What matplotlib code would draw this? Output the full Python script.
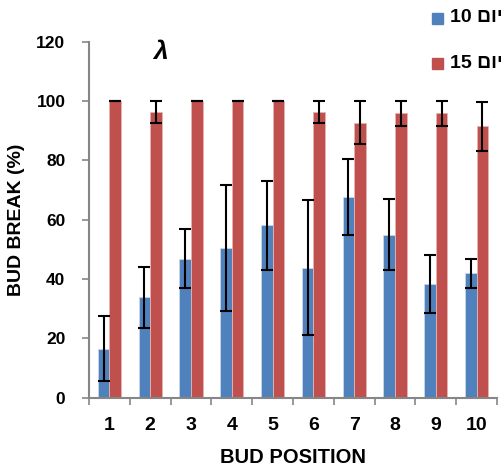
import numpy as np
import matplotlib.pyplot as plt

plt.rcParams['font.family'] = ['Liberation Sans', 'DejaVu Sans']

positions = ['1', '2', '3', '4', '5', '6', '7', '8', '9', '10']
day10 = [16.5, 33.8, 46.8, 50.4, 58.1, 43.8, 67.7, 55.0, 38.3, 41.9]
day10_err = [11.0, 10.4, 9.9, 21.2, 15.0, 22.7, 12.9, 12.1, 9.7, 4.8]
day15 = [100, 96.2, 100, 100, 100, 96.2, 92.7, 95.8, 95.8, 91.5]
day15_err = [0, 3.7, 0, 0, 0, 3.7, 7.2, 4.2, 4.2, 8.3]
yticks = [0, 20, 40, 60, 80, 100, 120]
label10 = '10 \u05dd\u05d5\u05d9'
label15 = '15 \u05dd\u05d5\u05d9'

blue = '#4F81BD'
red = '#C0504D'
grey = '#868686'

fig = plt.figure(figsize=(5.02, 4.71), dpi=100)
ax = fig.add_axes((0.1773, 0.1556, 0.8127, 0.756))

x = np.arange(len(positions))
w = 0.285
ekw = dict(ecolor='black', elinewidth=1.5, capsize=4, capthick=1.5)
ax.bar(x - w / 2, day10, w, color=blue, edgecolor='#c9d6ea', linewidth=0.6,
       yerr=day10_err, error_kw=ekw, zorder=2)
ax.bar(x + w / 2, day15, w, color=red, edgecolor='#e6b3b2', linewidth=0.6,
       yerr=day15_err, error_kw=ekw, zorder=2)

ax.set_xlim(-0.5, len(positions) - 0.5)
ax.set_ylim(0, 120)

# category boundaries carry the tick marks, centres carry the labels
ax.set_xticks(np.arange(-0.5, len(positions)), labels=[])
ax.set_xticks(x, labels=positions, minor=True)
ax.tick_params(axis='x', which='major', direction='out', length=5,
               width=1.2, color=grey)
ax.tick_params(axis='x', which='minor', length=0, pad=14, labelsize=14)
ax.set_yticks(yticks)
ax.tick_params(axis='y', direction='out', length=5, width=1.2, color=grey,
               labelsize=12.5, pad=12)
for lbl in ax.get_xticklabels(minor=True) + ax.get_yticklabels():
    lbl.set_fontweight('bold')

for side in ['top', 'right']:
    ax.spines[side].set_visible(False)
for side in ['left', 'bottom']:
    ax.spines[side].set_color(grey)
    ax.spines[side].set_linewidth(1.5)

ax.set_xlabel('BUD POSITION', fontsize=14.5, fontweight='bold', labelpad=10)
ax.set_ylabel('BUD BREAK (%)', fontsize=14, fontweight='bold', labelpad=8)

ax.text(1.25, 116.5, '\u03bb', fontsize=19, fontweight='bold', style='italic',
        ha='center', va='center')

# legend drawn by hand at the top right
for yy, col, txt in [(0.9618, blue, label10), (0.8662, red, label15)]:
    fig.patches.append(plt.Rectangle((0.861, yy - 0.012), 0.022, 0.0234,
                                     transform=fig.transFigure, color=col))
    fig.text(0.896, yy, txt, fontsize=14, fontweight='bold',
             ha='left', va='center')

fig.savefig('out.png', dpi=100)
